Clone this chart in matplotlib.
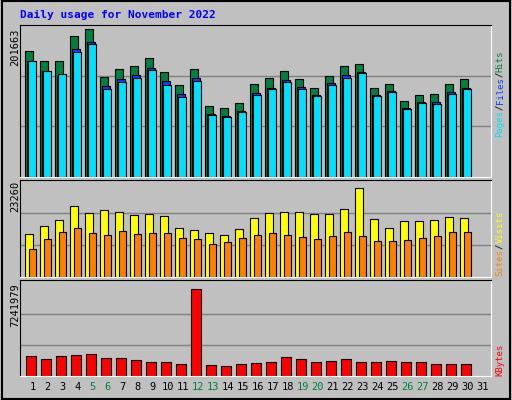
import matplotlib.pyplot as plt
import numpy as np

days = list(range(1, 32))
weekend = [5, 6, 12, 13, 19, 20, 26, 27]

# values
hits = [166800, 153500, 153500, 186700, 196000, 132900, 143500, 147400, 158100, 139500,
        122300, 143500, 94600, 92000, 98600, 123600, 131600, 140900, 130300, 118400,
        134300, 147400, 150100, 118400, 123600, 101200, 109200, 110500, 123600, 130300]
files = [153500, 140200, 133600, 169500, 178800, 120900, 130300, 135600, 144800, 127000,
         110500, 131600, 84000, 81300, 88000, 111800, 118400, 129000, 119700, 109200,
         125000, 135600, 139500, 109200, 114500, 92000, 100000, 100000, 113100, 118400]
pages = [153500, 140200, 136300, 165500, 176100, 116900, 126300, 131600, 142200, 121700,
         106500, 127600, 82700, 80000, 86600, 109200, 117100, 126300, 116900, 107900,
         122300, 131600, 138200, 107900, 113100, 90600, 98600, 97300, 110500, 116900]
visits = [10440, 12320, 13720, 17250, 15600, 16310, 15830, 14900, 15360, 14660,
          11830, 11360, 10650, 10180, 11600, 14190, 15600, 15830, 15830, 15360,
          15360, 16540, 21610, 13960, 11830, 13490, 13490, 13720, 14430, 14190]
sites = [6890, 9160, 10800, 11750, 10570, 10100, 11040, 10340, 10570, 10570,
         9400, 9160, 7990, 8460, 9400, 10100, 10570, 10100, 9630, 9160,
         9870, 10800, 9870, 8690, 8690, 8930, 9400, 9870, 10800, 10800]
kbytes = [1560000, 1340000, 1560000, 1630000, 1710000, 1410000, 1410000, 1270000, 1120000, 1120000,
          900000, 6730000, 830000, 750000, 900000, 980000, 1120000, 1490000, 1340000, 1120000,
          1190000, 1340000, 1120000, 1050000, 1190000, 1120000, 1120000, 900000, 900000, 900000]
max_hits, max_visits, max_kb = 201663, 23260, 7241979

bg = '#C0C0C0'
W, H = 512, 400
fig = plt.figure(figsize=(W / 100, H / 100), dpi=100, facecolor=bg)
mono = 'DejaVu Sans Mono'

def px_axes(x0, y0, x1, y1):
    # pixel box (top-left origin) -> axes
    ax = fig.add_axes([x0 / W, 1 - y1 / H, (x1 - x0) / W, (y1 - y0) / H])
    ax.set_facecolor(bg)
    ax.set_xlim(-1 / 3, 471 / 15 - 1 / 3)
    ax.set_xticks([])
    ax.set_yticks([])
    for s in ax.spines.values():
        s.set_color('white')
    ax.spines['left'].set_color('black')
    ax.spines['top'].set_color('black')
    return ax

x = np.arange(30)
ec = dict(edgecolor='black', linewidth=0.8, align='edge')

ax1 = px_axes(20, 25, 491, 177)
ax1.set_ylim(0, max_hits)
for g in (1 / 3, 2 / 3):
    ax1.axhline(max_hits * g, color='#808080', lw=1, zorder=0)
ax1.bar(x, hits, width=0.5, color='#008040', **ec)
ax1.bar(x + 0.13, files, width=0.53, color='#0040FF', **ec)
ax1.bar(x + 0.22, pages, width=0.52, color='#00E0FF', **ec)

ax2 = px_axes(20, 180, 491, 277)
ax2.set_ylim(0, max_visits * 1.01)
for g in (1 / 3, 2 / 3):
    ax2.axhline(max_visits * g, color='#808080', lw=1, zorder=0)
ax2.bar(x, visits, width=0.54, color='#FFFF00', **ec)
ax2.bar(x + 0.27, sites, width=0.48, color='#FF8000', **ec)

ax3 = px_axes(20, 280, 491, 376)
ax3.set_ylim(0, max_kb * 1.03)
for g in (1 / 3, 2 / 3):
    ax3.axhline(max_kb * g, color='#808080', lw=1, zorder=0)
ax3.bar(x + 0.07, kbytes, width=0.67, color='#FF0000', **ec)
for d in days:
    ax3.text(d - 1 + 0.51, -0.06, str(d), transform=ax3.get_xaxis_transform(),
             ha='center', va='top', fontsize=7.5, family=mono,
             color='#008040' if d in weekend else 'black')

fig.text(20 / W, 1 - 15 / H, 'Daily usage for November 2022', color='#0000FF',
         fontsize=8, family=mono, fontweight='bold', va='center')

for lab, ytop in (('201663', 28), ('23260', 181), ('7241979', 283)):
    fig.text(15 / W, 1 - ytop / H, lab, rotation=90, ha='center', va='top',
             fontsize=7.5, family=mono)

fs_side = 6.5
ch = fs_side * 100 / 72 * 0.602

def side_label(parts, ybottom):
    y = ybottom
    for txt, col in parts:
        fig.text(500 / W, 1 - y / H, txt, rotation=90, ha='center', va='bottom',
                 fontsize=fs_side, family=mono, color=col)
        y -= ch * len(txt)

side_label([('Pages', '#00E0FF'), ('/', 'black'), ('Files', '#0040FF'),
            ('/', 'black'), ('Hits', '#008040')], 137)
side_label([('Sites', '#FF8000'), ('/', 'black'), ('Visits', '#FFFF00')], 276)
side_label([('KBytes', '#FF0000')], 376)

border = plt.Rectangle((0.003, 0.003), 0.994, 0.994, transform=fig.transFigure,
                       fill=False, edgecolor='black', lw=1.5)
fig.add_artist(border)

fig.savefig('out.png', dpi=100, facecolor=bg)
